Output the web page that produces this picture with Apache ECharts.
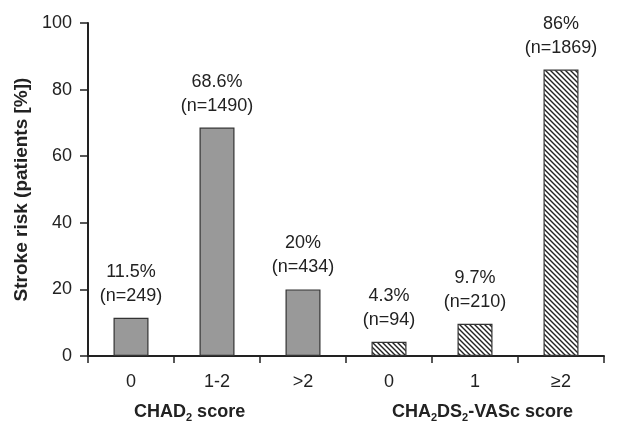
<!DOCTYPE html>
<html><head><meta charset="utf-8">
<script src="https://cdn.jsdelivr.net/npm/echarts@6/dist/echarts.min.js"></script>
<style>html,body{margin:0;padding:0;background:#fff}#c{width:628px;height:426px}</style>
</head><body><div id="c"></div>
<script>
var categories = ['0', '1-2', '>2', '0', '1', '≥2'];
var values = [11.5, 68.6, 20, 4.3, 9.7, 86];
var counts = [249, 1490, 434, 94, 210, 1869];
var pctLabels = ['11.5%', '68.6%', '20%', '4.3%', '9.7%', '86%'];
var hatched = [false, false, false, true, true, true];
var yTicks = [0, 20, 40, 60, 80, 100];

function makeHatch() {
  var c = document.createElement('canvas');
  c.width = 5; c.height = 5;
  var ctx = c.getContext('2d');
  ctx.fillStyle = '#ffffff';
  ctx.fillRect(0, 0, 5, 5);
  ctx.strokeStyle = '#222';
  ctx.lineWidth = 1.4;
  ctx.beginPath();
  ctx.moveTo(-1, -1); ctx.lineTo(6, 6);
  ctx.moveTo(-1, 4); ctx.lineTo(1, 6);
  ctx.moveTo(4, -1); ctx.lineTo(6, 1);
  ctx.stroke();
  return c;
}
var hatchPattern = { image: makeHatch(), repeat: 'repeat' };

var chart = echarts.init(document.getElementById('c'));
var data = values.map(function (v, i) {
  return {
    value: v,
    itemStyle: { color: hatched[i] ? hatchPattern : '#999999', borderColor: '#333', borderWidth: 1.2 },
    label: { formatter: pctLabels[i] + '\n(n=' + counts[i] + ')' }
  };
});
var richStyle = {
  a: { fontSize: 18, fontWeight: 'bold', fill: '#222', fontFamily: 'Liberation Sans' },
  s: { fontSize: 11, fontWeight: 'bold', fill: '#222', padding: [11, 0, 0, 0], fontFamily: 'Liberation Sans' }
};
chart.setOption({
  animation: false,
  textStyle: { fontFamily: 'Liberation Sans, Arial, sans-serif' },
  grid: { left: 88, right: 24, top: 23, bottom: 70 },
  xAxis: {
    type: 'category', data: categories,
    axisLine: { lineStyle: { color: '#222', width: 2 } },
    axisTick: { show: true, length: 7, lineStyle: { color: '#222', width: 1.5 } },
    axisLabel: { color: '#222', fontSize: 18, margin: 17 }
  },
  yAxis: {
    type: 'value', min: 0, max: 100, interval: 20,
    name: 'Stroke risk (patients [%])', nameLocation: 'middle', nameGap: 56,
    nameTextStyle: { fontSize: 19, fontWeight: 'bold', color: '#222' },
    splitLine: { show: false },
    axisLine: { show: true, lineStyle: { color: '#222', width: 2 } },
    axisTick: { show: true, length: 8, lineStyle: { color: '#222', width: 1.5 } },
    axisLabel: { color: '#222', fontSize: 18, margin: 16,
      formatter: function (v) { return yTicks.indexOf(v) >= 0 ? String(v) : ''; } }
  },
  series: [{
    type: 'bar', data: data, barWidth: 35,
    label: { show: true, position: 'top', distance: 10, fontSize: 18, color: '#222', lineHeight: 24, align: 'center' }
  }],
  graphic: [
    { type: 'text', left: 134, top: 403, style: { text: '{a|CHAD}{s|2}{a| score}', rich: richStyle } },
    { type: 'text', left: 392, top: 403, style: { text: '{a|CHA}{s|2}{a|DS}{s|2}{a|-VASc score}', rich: richStyle } }
  ]
});
</script></body></html>
